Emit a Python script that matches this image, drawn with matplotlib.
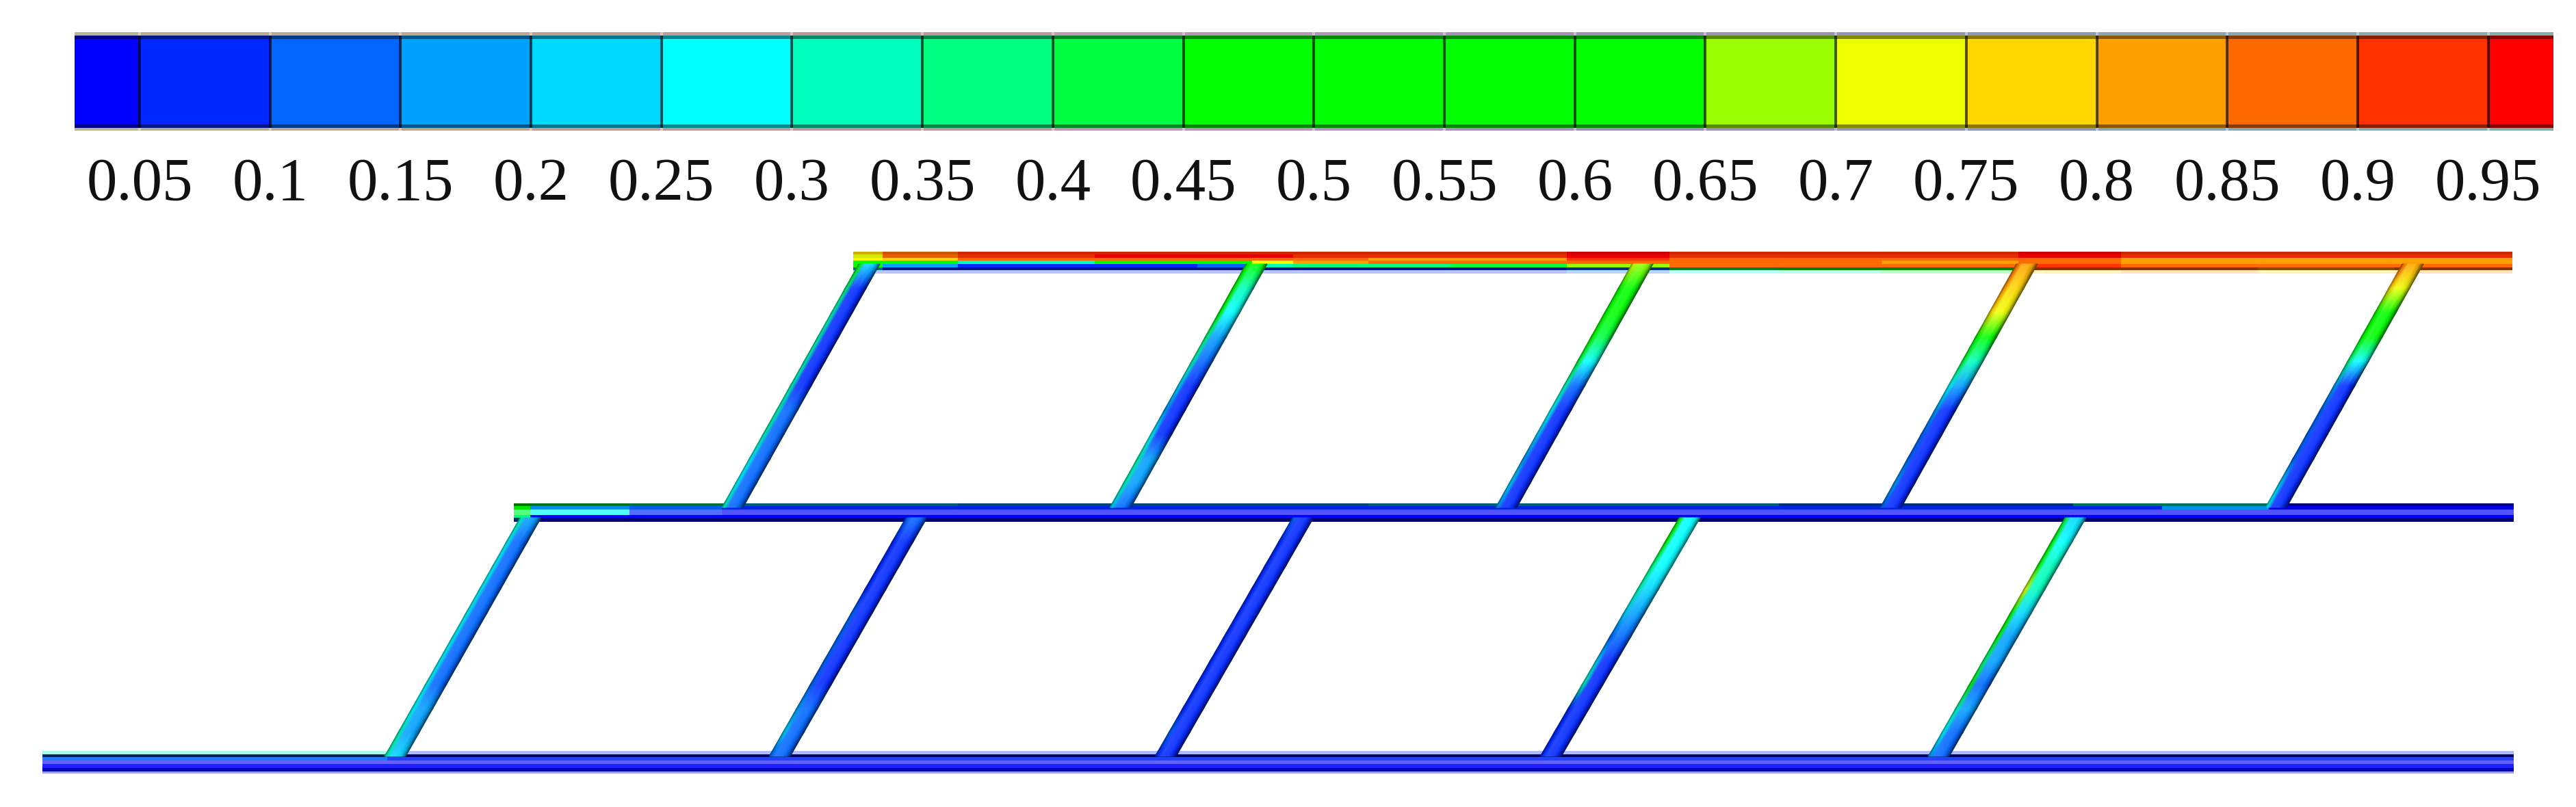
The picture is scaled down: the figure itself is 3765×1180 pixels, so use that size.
import numpy as np, matplotlib; matplotlib.use("Agg")
import matplotlib.pyplot as plt
from matplotlib.colors import ListedColormap, BoundaryNorm, to_rgb

W,H=3766,1180
plt.rcParams['font.family']=['Liberation Serif','DejaVu Serif']

# colour scale
tick_vals=[.05,.1,.15,.2,.25,.3,.35,.4,.45,.5,.55,.6,.65,.7,.75,.8,.85,.9,.95]
tick_labels=['0.05','0.1','0.15','0.2','0.25','0.3','0.35','0.4','0.45','0.5','0.55','0.6','0.65','0.7','0.75','0.8','0.85','0.9','0.95']
level_edges=[.025]+tick_vals+[.975]
cell_colors=['#0000ff','#0028ff','#0066ff','#00a0ff','#00d8ff','#00ffff','#00ffbc','#00ff80','#00ff40','#00ff00',
             '#00ff00','#00ff00','#00ff00','#99ff00','#eeff00','#ffd800','#ffa000','#ff6a00','#ff3200','#ff0000']
rim_colors=['#b8b890','#b8ac8c','#bcaa8e','#bea690','#c09c94','#c09a98','#c09498','#c094a0','#c098b0','#bc94b8',
            '#b494bc','#a890b8','#a090b8','#9c90b8','#9494b8','#8c98b8','#88a4b8','#84a8b4','#84acb0','#80b0ac']

# channels: y bands, x breaks, field per band, shade per band (+ to white, - to black)
top_y=[368,372,377,381,386,391,395,400]
top_x=[1247,1290,1400,1600,1750,1830,1890,2000,2120,2290,2440,2600,2750,2950,3100,3300,3500,3672]
top_field=[[.75,.85,.92,.93,.93,.93,.93,.92,.92,.95,.92,.9,.92,.95,.9,.92,.93],
           [.72,.88,.93,.97,.97,.97,.93,.9,.9,.97,.9,.9,.9,.95,.9,.9,.93],
           [.72,.78,.86,.88,.88,.88,.86,.84,.84,.93,.86,.86,.86,.86,.84,.82,.84],
           [.62,.45,.33,.45,.6,.72,.82,.85,.85,.86,.86,.86,.84,.85,.82,.8,.82],
           [.5,.15,.08,.05,.1,.3,.35,.35,.42,.68,.88,.88,.88,.9,.88,.86,.88],
           [.2,.06,.05,.05,.05,.05,.05,.05,.06,.1,.4,.5,.62,.86,.86,.84,.86],
           [.06,.05,.05,.05,.05,.05,.05,.05,.06,.12,.25,.3,.4,.75,.8,.75,.8]]
top_shade=[-.2,-.1,0,0,0,-.5,.72]

mid_y=[736,740,745,753,757,763]
mid_x=[751,775,920,1055,1400,2000,2600,3030,3160,3316,3674]
mid_field=[[.45,.4,.36,.2,.16,.2,.14,.3,.32,.04],
           [.5,.18,.1,.06,.05,.05,.06,.08,.16,.03],
           [.42,.25,.05,.03,.03,.03,.03,.03,.03,.03],
           [.35,.03,.03,.03,.03,.03,.03,.03,.03,.03],
           [.1,.03,.03,.03,.03,.03,.03,.03,.03,.03]]
mid_shade=[-.55,-.1,.32,0,-.55]

bot_y=[1098,1103,1107,1112,1117,1123,1128,1131]
bot_x=[62,566,1200,2000,2800,3674]
bot_field=[[.3,.06,.06,.06,.08],
           [.1,.03,.03,.03,.03],
           [.12,.06,.06,.06,.06],
           [.03,.03,.03,.03,.03],
           [.03,.03,.03,.03,.03],
           [.03,.03,.03,.03,.03],
           [.03,.03,.03,.03,.03]]
bot_shade=[.68,-.6,.12,.38,.12,-.3,.6]

# inclined branches: centre x at lower / upper end, field from lower end to upper end
up_yb,up_yt=742,386
up_xb=[1071,1638,2202,2764,3327]
up_xt=[1271,1837,2401,2963,3527]
up_core=[[.12,.12,.1,.1,.1,.08,.08,.08,.08,.08,.2],
         [.12,.18,.15,.08,.08,.08,.1,.18,.25,.33,.48],
         [.05,.05,.05,.05,.07,.14,.28,.42,.5,.55,.68],
         [.05,.05,.05,.05,.07,.16,.3,.48,.72,.78,.82],
         [.05,.05,.05,.05,.05,.09,.25,.48,.55,.72,.82]]
up_left=[[.3,.28,.28,.3,.32,.32,.32,.32,.32,.35,.45],
         [.2,.3,.3,.25,.15,.2,.3,.38,.45,.5,.52],
         [.15,.2,.15,.2,.25,.3,.4,.5,.55,.6,.7],
         [.1,.15,.1,.12,.15,.25,.4,.55,.75,.82,.86],
         [.25,.2,.1,.1,.1,.15,.35,.52,.62,.75,.86]]
lo_yb,lo_yt=1106,757
lo_xb=[578,1140,1704,2267,2834]
lo_xt=[776,1340,1905,2470,3034]
lo_core=[[.2,.15,.15,.13,.13,.13,.13,.12,.12,.12,.18],
         [.1,.14,.12,.08,.07,.07,.06,.06,.06,.06,.1],
         [.06,.06,.06,.06,.06,.06,.06,.06,.06,.06,.08],
         [.06,.06,.06,.07,.08,.1,.16,.22,.28,.28,.25],
         [.1,.12,.15,.12,.15,.18,.22,.3,.32,.28,.2]]
lo_left=[[.32,.3,.28,.28,.28,.28,.28,.28,.26,.26,.3],
         [.12,.2,.15,.1,.1,.1,.1,.08,.08,.08,.12],
         [.08,.1,.08,.08,.08,.08,.08,.08,.08,.08,.1],
         [.06,.08,.08,.3,.22,.12,.22,.3,.36,.45,.45],
         [.15,.28,.3,.45,.35,.45,.5,.7,.55,.45,.4]]
branch_stations=[0,.1,.2,.3,.4,.5,.6,.7,.8,.9,1]

cmap=ListedColormap(cell_colors); norm=BoundaryNorm(level_edges,cmap.N,clip=True)
def shade(rgb,s):
    rgb=np.asarray(rgb,float)
    return rgb+(1-rgb)*s if s>=0 else rgb*(1+s)
def field_rgb(vals): return cmap(norm(np.asarray(vals)))[...,:3]

fig=plt.figure(figsize=(W/100,H/100),dpi=100,facecolor='white')
ax=fig.add_axes([0,0,1,1]); ax.set_xlim(0,W); ax.set_ylim(H,0); ax.axis('off')

for ys,xs,fld,shd in [(top_y,top_x,top_field,top_shade),(mid_y,mid_x,mid_field,mid_shade),(bot_y,bot_x,bot_field,bot_shade)]:
    rgb=field_rgb(fld)
    for i,s in enumerate(shd): rgb[i]=shade(rgb[i],s)
    ax.pcolormesh(xs,ys,rgb,shading='flat',antialiased=False,rasterized=True)

lanes=[-16,-13,-7,4,10,15]
lane_shade=[-.45,-.1,.15,.1,-.15,-.65]
def draw_branch(xb,xt,yb,yt,core,left):
    s=np.array(branch_stations)
    y=yb+s*(yt-yb); cx=xb+s*(xt-xb)
    X=np.array([cx+o for o in lanes]); Y=np.array([y for o in lanes])
    left_rgb,core_rgb=field_rgb(left),field_rgb(core)
    rgb=np.array([shade(left_rgb,lane_shade[0]),shade(left_rgb,lane_shade[1]),shade(core_rgb,lane_shade[2]),
                  shade(core_rgb,lane_shade[3]),shade(core_rgb,lane_shade[4]),shade(core_rgb,lane_shade[5])])
    ax.pcolormesh(X,Y,np.dstack([rgb,np.ones(rgb.shape[:2])]),shading='gouraud',rasterized=True)
for i in range(5):
    draw_branch(up_xb[i],up_xt[i],up_yb,up_yt,up_core[i],up_left[i])
    draw_branch(lo_xb[i],lo_xt[i],lo_yb,lo_yt,lo_core[i],lo_left[i])

# colour bar, own axes so the ticks are value positioned
cb=fig.add_axes([108.6/W,1-191/H,(3732-108.6)/W,144/H])
cb_y=[47,52,57,182,187,191]
body=field_rgb([(a+b)/2 for a,b in zip(level_edges[:-1],level_edges[1:])])
rim=np.array([to_rgb(c) for c in rim_colors])
cb.pcolormesh(level_edges,cb_y,np.array([rim,shade(body,-.45),body,shade(body,-.45),rim]),shading='flat',antialiased=False)
cb.vlines(tick_vals,52,187,color='k',alpha=.65,lw=2.9)
cb.vlines(tick_vals,47,52,color='w',alpha=.4,lw=2.9); cb.vlines(tick_vals,187,191,color='w',alpha=.4,lw=2.9)
cb.set_xlim(.025,.975); cb.set_ylim(191,47)
cb.set_yticks([]); cb.set_xticks(tick_vals,tick_labels,fontsize=64)
cb.tick_params(axis='x',length=0,pad=28,colors='#111111')
for s in cb.spines.values(): s.set_visible(False)

fig.savefig("out.png",dpi=100)
